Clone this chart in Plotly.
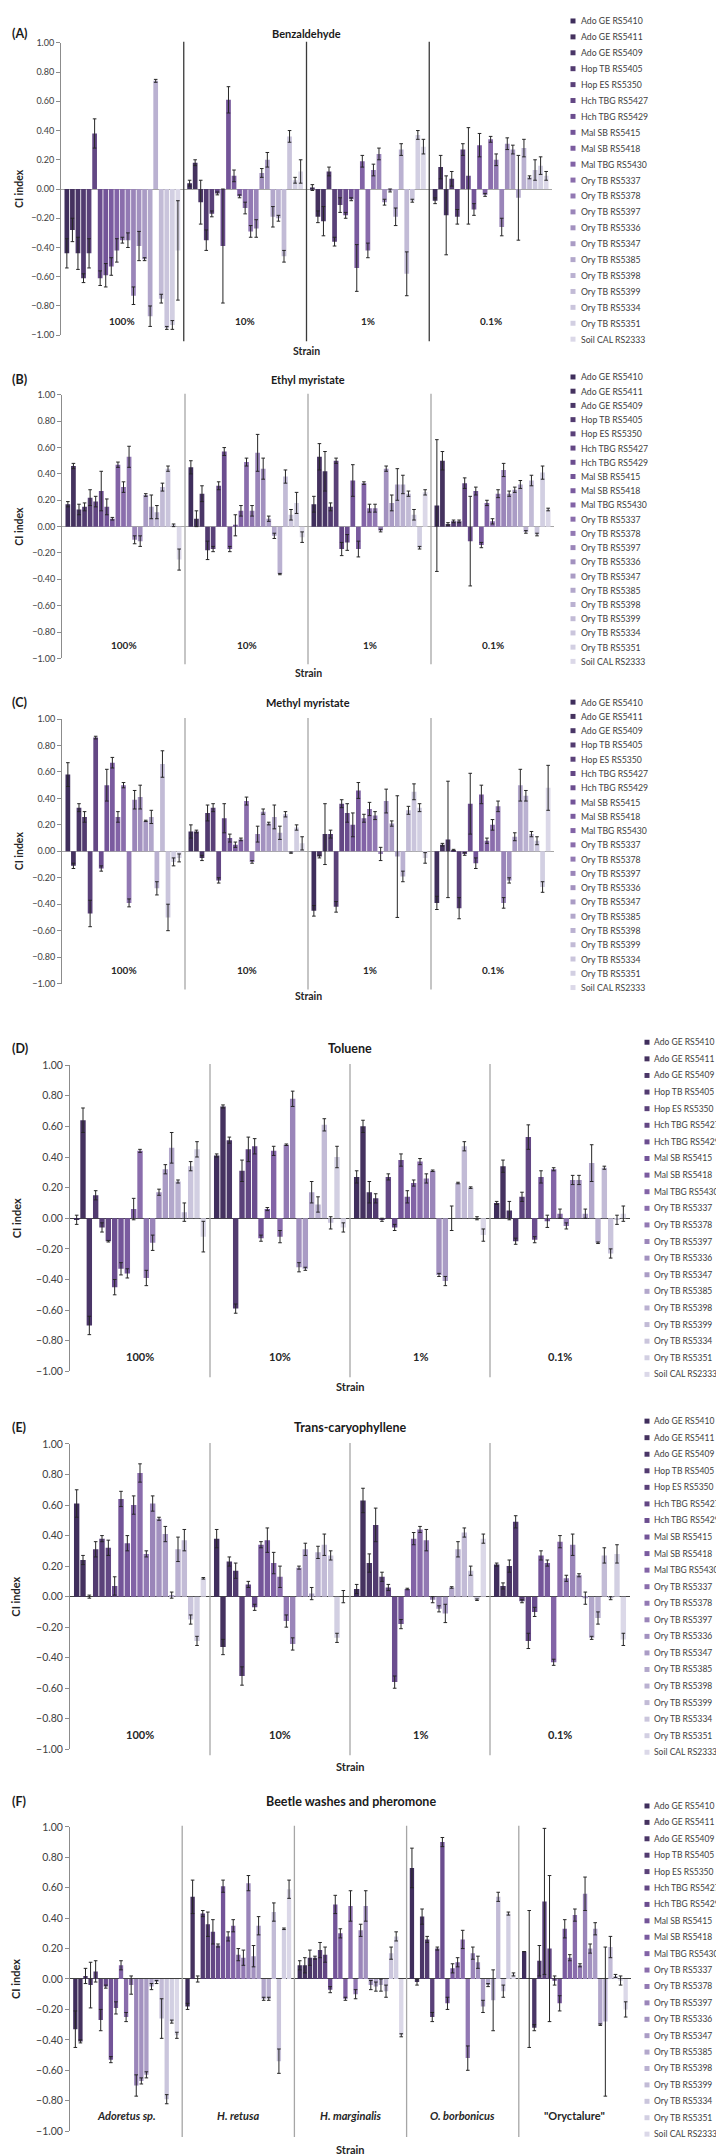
import plotly.graph_objects as go

W, H = 724, 2155

strains = ["Ado GE RS5410", "Ado GE RS5411", "Ado GE RS5409", "Hop TB RS5405", "Hop ES RS5350",
           "Hch TBG RS5427", "Hch TBG RS5429", "Mal SB RS5415", "Mal SB RS5418", "Mal TBG RS5430",
           "Ory TB RS5337", "Ory TB RS5378", "Ory TB RS5397", "Ory TB RS5336", "Ory TB RS5347",
           "Ory TB RS5385", "Ory TB RS5398", "Ory TB RS5399", "Ory TB RS5334", "Ory TB RS5351",
           "Soil CAL RS2333"]

strain_colors = ["#3f2e5c", "#45325f", "#4a3667", "#523b70", "#5a4179", "#634784", "#6b4d8f",
                 "#735498", "#7a5b9f", "#8263a6", "#8a6dac", "#9279b3", "#9a85b9", "#a291bf",
                 "#aa9cc5", "#b2a7cb", "#bab1d1", "#c2bbd6", "#cac5dc", "#d2cfe2", "#dbd8e8"]

concentrations = ["100%", "10%", "1%", "0.1%"]
beetle_sources = ["Adoretus sp.", "H. retusa", "H. marginalis", "O. borbonicus", "\"Oryctalure\""]
beetle_labels = ["<i>Adoretus sp.</i>", "<i>H. retusa</i>", "<i>H. marginalis</i>",
                 "<i>O. borbonicus</i>", "\"Oryctalure\""]

# ---- (A) Benzaldehyde: one row per concentration, 21 strains each ----
benzaldehyde_ci = [
    [-0.44, -0.28, -0.44, -0.61, -0.44, 0.38, -0.61, -0.59, -0.53, -0.42, -0.35, -0.35, -0.73, -0.39, -0.48, -0.87, 0.74, -0.75, -0.95, -0.93, -0.42],
    [0.04, 0.18, -0.09, -0.35, -0.17, -0.03, -0.39, 0.61, 0.09, -0.05, -0.13, -0.29, -0.27, 0.11, 0.20, -0.19, -0.20, -0.46, 0.36, 0.06, 0.12],
    [0.01, -0.19, -0.22, 0.12, -0.36, -0.11, -0.18, -0.07, -0.54, 0.19, -0.42, 0.13, 0.24, -0.09, -0.01, -0.19, 0.27, -0.58, -0.08, 0.37, 0.29],
    [-0.08, 0.15, -0.18, 0.07, -0.19, 0.27, 0.09, -0.14, 0.30, -0.04, 0.34, 0.20, -0.26, 0.31, 0.27, -0.06, 0.28, 0.08, 0.13, 0.16, 0.09],
]
benzaldehyde_err = [
    [0.10, 0.08, 0.11, 0.03, 0.10, 0.10, 0.05, 0.08, 0.06, 0.08, 0.02, 0.05, 0.06, 0.10, 0.01, 0.07, 0.01, 0.03, 0.01, 0.03, 0.34],
    [0.02, 0.02, 0.15, 0.07, 0.02, 0.01, 0.39, 0.09, 0.04, 0.01, 0.04, 0.04, 0.06, 0.03, 0.05, 0.07, 0.02, 0.04, 0.04, 0.02, 0.08],
    [0.02, 0.04, 0.10, 0.03, 0.03, 0.05, 0.02, 0.01, 0.16, 0.04, 0.05, 0.04, 0.04, 0.02, 0.01, 0.06, 0.04, 0.15, 0.01, 0.03, 0.05],
    [0.02, 0.08, 0.27, 0.05, 0.05, 0.04, 0.33, 0.04, 0.08, 0.01, 0.02, 0.04, 0.06, 0.04, 0.03, 0.29, 0.06, 0.01, 0.07, 0.06, 0.03],
]

# ---- (B) Ethyl myristate ----
ethyl_myristate_ci = [
    [0.17, 0.46, 0.13, 0.15, 0.22, 0.19, 0.27, 0.15, 0.06, 0.47, 0.30, 0.53, -0.10, -0.11, 0.24, 0.15, 0.11, 0.30, 0.44, 0.01, -0.25],
    [0.45, 0.06, 0.25, -0.18, -0.17, 0.31, 0.57, -0.17, 0.01, 0.12, 0.49, 0.12, 0.56, 0.44, 0.06, -0.07, -0.36, 0.38, 0.09, 0.18, -0.08],
    [0.17, 0.53, 0.42, 0.15, 0.50, -0.17, -0.12, 0.35, -0.17, 0.33, 0.14, 0.14, -0.03, 0.44, 0.18, 0.32, 0.32, 0.25, 0.09, -0.16, 0.26],
    [0.16, 0.50, 0.02, 0.04, 0.04, 0.33, -0.11, 0.27, -0.14, 0.18, 0.04, 0.25, 0.43, 0.25, 0.28, 0.32, -0.04, 0.35, -0.06, 0.41, 0.13],
]
ethyl_myristate_err = [
    [0.02, 0.02, 0.04, 0.03, 0.06, 0.04, 0.15, 0.06, 0.01, 0.02, 0.04, 0.08, 0.03, 0.04, 0.01, 0.09, 0.05, 0.03, 0.02, 0.01, 0.08],
    [0.05, 0.06, 0.06, 0.07, 0.02, 0.03, 0.03, 0.02, 0.08, 0.04, 0.03, 0.04, 0.14, 0.08, 0.02, 0.02, 0.005, 0.05, 0.04, 0.08, 0.04],
    [0.06, 0.10, 0.15, 0.03, 0.02, 0.05, 0.06, 0.12, 0.06, 0.01, 0.03, 0.03, 0.01, 0.02, 0.06, 0.12, 0.07, 0.02, 0.04, 0.01, 0.02],
    [0.50, 0.07, 0.01, 0.01, 0.01, 0.04, 0.34, 0.03, 0.02, 0.02, 0.02, 0.03, 0.05, 0.02, 0.02, 0.03, 0.01, 0.04, 0.01, 0.05, 0.01],
]

# ---- (C) Methyl myristate ----
methyl_myristate_ci = [
    [0.58, -0.11, 0.33, 0.26, -0.47, 0.86, -0.13, 0.50, 0.67, 0.26, 0.50, -0.39, 0.39, 0.41, 0.23, 0.26, -0.28, 0.66, -0.50, -0.08, -0.05],
    [0.15, 0.15, -0.05, 0.29, 0.33, -0.22, 0.25, 0.10, 0.05, 0.09, 0.38, -0.08, 0.13, 0.30, 0.21, 0.26, 0.14, 0.28, -0.01, 0.18, 0.06],
    [-0.45, -0.04, 0.13, 0.13, -0.42, 0.36, 0.29, 0.20, 0.46, 0.25, 0.32, 0.27, -0.02, 0.38, 0.21, -0.04, -0.19, 0.31, 0.45, 0.33, -0.05],
    [-0.39, 0.05, 0.09, 0.01, -0.43, -0.02, 0.36, -0.09, 0.43, 0.08, 0.20, 0.34, -0.39, -0.22, 0.11, 0.50, 0.42, 0.13, 0.08, -0.27, 0.48],
]
methyl_myristate_err = [
    [0.09, 0.02, 0.03, 0.04, 0.10, 0.01, 0.02, 0.12, 0.04, 0.04, 0.02, 0.03, 0.07, 0.09, 0.005, 0.05, 0.05, 0.10, 0.10, 0.03, 0.03],
    [0.05, 0.01, 0.02, 0.06, 0.03, 0.02, 0.11, 0.03, 0.02, 0.01, 0.03, 0.01, 0.06, 0.02, 0.01, 0.09, 0.05, 0.02, 0.005, 0.02, 0.05],
    [0.04, 0.01, 0.23, 0.03, 0.04, 0.03, 0.07, 0.09, 0.06, 0.03, 0.05, 0.03, 0.05, 0.09, 0.02, 0.46, 0.04, 0.03, 0.06, 0.03, 0.04],
    [0.05, 0.01, 0.44, 0.005, 0.08, 0.01, 0.23, 0.04, 0.07, 0.02, 0.04, 0.04, 0.04, 0.02, 0.03, 0.12, 0.04, 0.02, 0.03, 0.04, 0.17],
]

# ---- (D) Toluene ----
toluene_ci = [
    [-0.01, 0.64, -0.70, 0.15, -0.06, -0.15, -0.45, -0.33, -0.36, 0.06, 0.44, -0.39, -0.16, 0.17, 0.32, 0.46, 0.24, 0.04, 0.34, 0.45, -0.12],
    [0.41, 0.73, 0.51, -0.59, 0.31, 0.45, 0.47, -0.13, 0.06, 0.44, -0.12, 0.48, 0.78, -0.32, -0.33, 0.17, 0.09, 0.61, -0.03, 0.40, -0.06],
    [0.27, 0.60, 0.17, 0.13, -0.01, 0.27, -0.06, 0.38, 0.14, 0.23, 0.37, 0.26, 0.31, -0.37, -0.41, 0.00, 0.23, 0.47, 0.20, 0.00, -0.11],
    [0.10, 0.34, 0.05, -0.15, 0.14, 0.53, -0.14, 0.27, -0.02, 0.32, 0.03, -0.05, 0.25, 0.25, 0.03, 0.36, -0.16, 0.33, -0.23, -0.01, 0.03],
]
toluene_err = [
    [0.03, 0.08, 0.06, 0.03, 0.03, 0.005, 0.05, 0.04, 0.03, 0.07, 0.01, 0.05, 0.05, 0.02, 0.03, 0.10, 0.01, 0.06, 0.03, 0.05, 0.10],
    [0.01, 0.01, 0.02, 0.03, 0.07, 0.08, 0.05, 0.02, 0.01, 0.03, 0.04, 0.005, 0.05, 0.03, 0.01, 0.07, 0.05, 0.04, 0.04, 0.07, 0.03],
    [0.04, 0.04, 0.07, 0.03, 0.01, 0.02, 0.02, 0.04, 0.04, 0.02, 0.02, 0.03, 0.005, 0.01, 0.03, 0.08, 0.005, 0.03, 0.005, 0.01, 0.04],
    [0.01, 0.04, 0.06, 0.02, 0.03, 0.08, 0.02, 0.04, 0.04, 0.01, 0.03, 0.02, 0.03, 0.03, 0.03, 0.12, 0.005, 0.01, 0.03, 0.03, 0.05],
]

# ---- (E) Trans-caryophyllene ----
caryophyllene_ci = [
    [0.61, 0.24, 0.00, 0.31, 0.38, 0.32, 0.07, 0.64, 0.35, 0.60, 0.81, 0.28, 0.61, 0.51, 0.41, 0.01, 0.31, 0.37, -0.15, -0.29, 0.12],
    [0.38, -0.33, 0.23, 0.17, -0.52, 0.08, -0.07, 0.34, 0.37, 0.22, 0.13, -0.16, -0.31, 0.19, 0.31, 0.02, 0.29, 0.34, 0.27, -0.27, 0.00],
    [0.05, 0.63, 0.22, 0.47, 0.13, 0.06, -0.56, -0.18, 0.05, 0.38, 0.44, 0.37, -0.02, -0.08, -0.11, 0.06, 0.31, 0.42, 0.17, -0.02, 0.38],
    [0.21, 0.07, 0.20, 0.49, -0.03, -0.29, -0.10, 0.27, 0.22, -0.43, 0.36, 0.12, 0.34, 0.14, -0.01, -0.27, -0.14, 0.27, -0.01, 0.28, -0.28],
]
caryophyllene_err = [
    [0.09, 0.03, 0.01, 0.05, 0.02, 0.05, 0.06, 0.05, 0.05, 0.06, 0.06, 0.02, 0.05, 0.01, 0.05, 0.02, 0.08, 0.07, 0.03, 0.03, 0.005],
    [0.06, 0.05, 0.03, 0.05, 0.06, 0.02, 0.02, 0.02, 0.08, 0.07, 0.07, 0.04, 0.04, 0.01, 0.04, 0.04, 0.04, 0.07, 0.03, 0.03, 0.04],
    [0.03, 0.08, 0.06, 0.11, 0.03, 0.02, 0.04, 0.03, 0.005, 0.04, 0.02, 0.07, 0.02, 0.02, 0.06, 0.005, 0.05, 0.03, 0.03, 0.005, 0.03],
    [0.01, 0.02, 0.04, 0.04, 0.01, 0.05, 0.03, 0.03, 0.02, 0.02, 0.04, 0.02, 0.07, 0.01, 0.04, 0.01, 0.04, 0.05, 0.01, 0.06, 0.04],
]

# ---- (F) Beetle washes and pheromone ----
beetle_ci = [
    [-0.33, -0.41, 0.02, -0.04, 0.05, -0.27, -0.05, -0.53, -0.19, 0.09, -0.25, -0.04, -0.70, -0.67, -0.63, -0.05, -0.02, -0.26, -0.79, -0.28, -0.37],
    [-0.18, 0.54, 0.00, 0.43, 0.36, 0.31, 0.22, 0.61, 0.28, 0.35, 0.16, 0.14, 0.63, 0.15, 0.35, -0.13, -0.13, 0.44, -0.54, 0.33, 0.59],
    [0.09, 0.09, 0.14, 0.14, 0.19, 0.16, -0.07, 0.49, 0.30, -0.13, 0.48, -0.10, 0.32, 0.48, -0.04, -0.05, -0.04, -0.08, 0.17, 0.28, -0.37],
    [0.73, -0.02, 0.41, 0.26, -0.25, 0.20, 0.90, -0.16, 0.07, 0.11, 0.26, -0.52, 0.17, 0.11, -0.18, -0.04, -0.14, 0.54, -0.08, 0.43, 0.03],
    [0.18, 0.00, -0.32, 0.12, 0.51, 0.20, -0.01, -0.16, 0.33, 0.14, 0.42, 0.09, 0.56, 0.20, 0.33, -0.30, -0.28, 0.21, 0.02, -0.01, -0.20],
]
beetle_err = [
    [0.12, 0.01, 0.05, 0.15, 0.07, 0.07, 0.01, 0.02, 0.04, 0.03, 0.03, 0.06, 0.07, 0.02, 0.02, 0.02, 0.01, 0.13, 0.03, 0.01, 0.02],
    [0.02, 0.11, 0.02, 0.02, 0.08, 0.08, 0.01, 0.04, 0.03, 0.04, 0.04, 0.05, 0.05, 0.07, 0.06, 0.01, 0.01, 0.06, 0.08, 0.005, 0.06],
    [0.03, 0.05, 0.05, 0.01, 0.05, 0.05, 0.02, 0.06, 0.03, 0.01, 0.10, 0.03, 0.04, 0.10, 0.03, 0.03, 0.04, 0.04, 0.04, 0.03, 0.01],
    [0.13, 0.02, 0.05, 0.02, 0.03, 0.01, 0.03, 0.04, 0.03, 0.03, 0.06, 0.08, 0.04, 0.04, 0.04, 0.01, 0.20, 0.03, 0.04, 0.01, 0.01],
    [0.0, 0.45, 0.02, 0.10, 0.48, 0.48, 0.03, 0.05, 0.06, 0.02, 0.04, 0.01, 0.11, 0.03, 0.04, 0.005, 0.49, 0.07, 0.01, 0.03, 0.05],
]

y_ticks = [-1.0, -0.8, -0.6, -0.4, -0.2, 0.0, 0.2, 0.4, 0.6, 0.8, 1.0]

FONT = "Lato, 'Open Sans', sans-serif"

# layout / styling per panel (pixel geometry)
small = dict(fs_tick=9, fs_leg=8.7, fs_grp=10, fs_title=11, fs_ax=10.5, ylab_x=11)
large = dict(fs_tick=10.5, fs_leg=8.5, fs_grp=11, fs_title=12.5, fs_ax=11, ylab_x=8)

panels = [
    dict(letter="(A)", title="Benzaldehyde", cats=concentrations, labels=concentrations,
         vals=benzaldehyde_ci, errs=benzaldehyde_err, box=(53, 544, 29, 323), head_y=20,
         strain_y=339, leg=(565, 571, 7, 16.0), sep="#3a3a3a", zero="#a6a6a6", **small),
    dict(letter="(B)", title="Ethyl myristate", cats=concentrations, labels=concentrations,
         vals=ethyl_myristate_ci, errs=ethyl_myristate_err, box=(54, 546, 383, 648), head_y=368,
         strain_y=663, leg=(565, 571, 365, 14.3), sep="#a6a6a6", zero="#a6a6a6", **small),
    dict(letter="(C)", title="Methyl myristate", cats=concentrations, labels=concentrations,
         vals=methyl_myristate_ci, errs=methyl_myristate_err, box=(54, 546, 709, 975), head_y=692,
         strain_y=987, leg=(565, 571, 692, 14.35), sep="#a6a6a6", zero="#a6a6a6", **small),
    dict(letter="(D)", title="Toluene", cats=concentrations, labels=concentrations,
         vals=toluene_ci, errs=toluene_err, box=(62, 622, 1057, 1365), head_y=1040,
         strain_y=1380, leg=(639, 644, 1034, 16.7), sep="#a6a6a6", zero="#404040", **large),
    dict(letter="(E)", title="Trans-caryophyllene", cats=concentrations, labels=concentrations,
         vals=caryophyllene_ci, errs=caryophyllene_err, box=(62, 622, 1438, 1745), head_y=1421,
         strain_y=1762, leg=(639, 644, 1415, 16.65), sep="#a6a6a6", zero="#404040", **large),
    dict(letter="(F)", title="Beetle washes and pheromone", cats=beetle_sources, labels=beetle_labels,
         vals=beetle_ci, errs=beetle_err, box=(62, 623, 1823, 2129), head_y=1798,
         strain_y=2147, leg=(639, 644, 1802, 16.5), sep="#a6a6a6", zero="#404040", **large),
]


def px(x):
    return x / W


def py(y):
    return 1 - y / H


fig = go.Figure()
annotations = []
shapes = []
layout_axes = {}

for k, p in enumerate(panels):
    n = k + 1
    xs = "x" if n == 1 else f"x{n}"
    ys = "y" if n == 1 else f"y{n}"
    x0, x1, y0, y1 = p["box"]
    ncat = len(p["cats"])

    for s, strain in enumerate(strains):
        fig.add_trace(go.Bar(
            x=p["cats"],
            y=[row[s] for row in p["vals"]],
            error_y=dict(type="data", array=[row[s] for row in p["errs"]], visible=True,
                         color="#262626", thickness=1, width=1.8),
            marker=dict(color=strain_colors[s], line=dict(width=0)),
            name=strain, showlegend=False, xaxis=xs, yaxis=ys,
        ))

    layout_axes["xaxis" if n == 1 else f"xaxis{n}"] = dict(
        domain=[px(x0), px(x1)], anchor=ys, type="category",
        range=[-0.5, ncat - 0.5], showticklabels=False, showline=False,
        showgrid=False, zeroline=False, ticks="")
    layout_axes["yaxis" if n == 1 else f"yaxis{n}"] = dict(
        domain=[py(y1), py(y0)], anchor=xs, range=[-1, 1],
        tickmode="array", tickvals=y_ticks, tickformat=".2f",
        showline=True, linecolor="#8c8c8c", linewidth=1,
        ticks="outside", ticklen=4, tickcolor="#8c8c8c",
        tickfont=dict(family=FONT, size=p["fs_tick"], color="#404040"),
        showgrid=False, zeroline=True, zerolinecolor=p["zero"], zerolinewidth=1.2)

    # group separators
    for g in range(ncat - 1):
        shapes.append(dict(type="line", xref=xs, yref="paper", x0=g + 0.5, x1=g + 0.5,
                           y0=py(y1 + 6), y1=py(y0 - 1),
                           line=dict(color=p["sep"], width=1.3)))

    # group labels inside the plot
    for cat, lab in zip(p["cats"], p["labels"]):
        annotations.append(dict(xref=xs, yref=ys, x=cat, y=-0.9, text=f"<b>{lab}</b>",
                                showarrow=False, xanchor="center", yanchor="middle",
                                font=dict(family=FONT, size=p["fs_grp"], color="#262626")))

    # panel letter and title
    annotations.append(dict(xref="paper", yref="paper", x=px(2), y=py(p["head_y"]),
                            text=f"<b>{p['letter']}</b>", showarrow=False,
                            xanchor="left", yanchor="middle",
                            font=dict(family=FONT, size=12.5, color="#1a1a1a")))
    annotations.append(dict(xref="paper", yref="paper", x=px((x0 + x1) / 2), y=py(p["head_y"]),
                            text=f"<b>{p['title']}</b>", showarrow=False,
                            xanchor="center", yanchor="middle",
                            font=dict(family=FONT, size=p["fs_title"], color="#1a1a1a")))
    # x axis title
    annotations.append(dict(xref="paper", yref="paper", x=px((x0 + x1) / 2), y=py(p["strain_y"]),
                            text="<b>Strain</b>", showarrow=False,
                            xanchor="center", yanchor="middle",
                            font=dict(family=FONT, size=p["fs_ax"], color="#262626")))
    # y axis title
    annotations.append(dict(xref="paper", yref="paper", x=px(p["ylab_x"]), y=py((y0 + y1) / 2),
                            text="<b>CI index</b>", showarrow=False, textangle=-90,
                            xanchor="center", yanchor="middle",
                            font=dict(family=FONT, size=p["fs_ax"], color="#262626")))

    # legend (drawn as a column of swatches and labels)
    mx, tx, ly0, step = p["leg"]
    for s, strain in enumerate(strains):
        yy = ly0 + s * step
        shapes.append(dict(type="rect", xref="paper", yref="paper",
                           x0=px(mx - 2.5), x1=px(mx + 2.5), y0=py(yy + 2.5), y1=py(yy - 2.5),
                           fillcolor=strain_colors[s], line=dict(width=0)))
        annotations.append(dict(xref="paper", yref="paper", x=px(tx), y=py(yy),
                                text=strain, showarrow=False, xanchor="left", yanchor="middle",
                                font=dict(family=FONT, size=p["fs_leg"], color="#404040")))

fig.update_layout(
    width=W, height=H,
    margin=dict(l=0, r=0, t=0, b=0),
    paper_bgcolor="white", plot_bgcolor="white",
    barmode="group", bargap=0.05, bargroupgap=0.15,
    showlegend=False,
    font=dict(family=FONT, color="#404040"),
    annotations=annotations, shapes=shapes,
    **layout_axes,
)

fig.write_html("out.html")
